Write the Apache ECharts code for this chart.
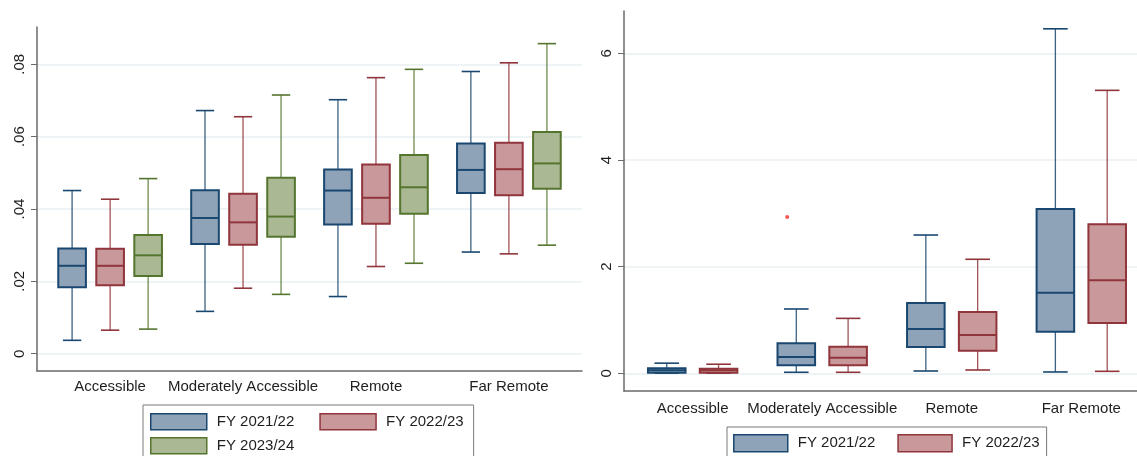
<!DOCTYPE html>
<html>
<head>
<meta charset="utf-8">
<script src="https://cdn.jsdelivr.net/npm/echarts@6/dist/echarts.min.js"></script>
<style>
html,body{margin:0;padding:0;background:#fff;}
#chart{width:1137px;height:456px;}
</style>
</head>
<body>
<div id="chart"></div>
<script>
// ---------------- DATA ----------------
const categories = ['Accessible', 'Moderately Accessible', 'Remote', 'Far Remote'];
const leftSeriesNames = ['FY 2021/22', 'FY 2022/23', 'FY 2023/24'];
const rightSeriesNames = ['FY 2021/22', 'FY 2022/23'];

// each entry: [min, q1, median, q3, max] for each category
const leftFY2122 = [[0.0037, 0.0184, 0.0243, 0.0291, 0.0451], [0.0117, 0.0303, 0.0375, 0.0452, 0.0672], [0.0158, 0.0357, 0.0451, 0.0509, 0.0702], [0.0281, 0.0444, 0.0508, 0.0581, 0.0780]];
const leftFY2223 = [[0.0065, 0.0189, 0.0243, 0.0290, 0.0427], [0.0181, 0.0301, 0.0363, 0.0442, 0.0655], [0.0241, 0.0359, 0.0431, 0.0523, 0.0763], [0.0276, 0.0438, 0.0510, 0.0583, 0.0804]];
const leftFY2324 = [[0.0068, 0.0215, 0.0272, 0.0328, 0.0484], [0.0164, 0.0323, 0.0379, 0.0486, 0.0715], [0.0250, 0.0387, 0.0460, 0.0549, 0.0786], [0.0300, 0.0456, 0.0526, 0.0613, 0.0857]];

const rightFY2122 = [[0.005, 0.011, 0.056, 0.094, 0.19], [0.019, 0.15, 0.306, 0.5625, 1.206], [0.043, 0.493, 0.831, 1.318, 2.593], [0.025, 0.78, 1.511, 3.081, 6.46]];
const rightFY2223 = [[0.003, 0.011, 0.056, 0.086, 0.17], [0.019, 0.15, 0.29, 0.50, 1.03], [0.062, 0.424, 0.718, 1.149, 2.138], [0.037, 0.943, 1.744, 2.794, 5.306]];
// outlier: [category index, value]
const rightOutliers = [[1, 2.93]];

const leftTickValues = [0, 0.02, 0.04, 0.06, 0.08];
const leftTickLabels = ['0', '.02', '.04', '.06', '.08'];
const rightTickValues = [0, 2, 4, 6];
const rightTickLabels = ['0', '2', '4', '6'];

// ---------------- STYLE ----------------
const strokeColors = ['#1a476f', '#90353b', '#55752f'];
const fillColors = ['#8ea3b8', '#c8989b', '#aab994'];
const FONT = '"Liberation Sans", Arial, sans-serif';
const TEXT = '#1e1e1e';
const AXIS = '#6a6a6a';
const GRID = '#e9f1f3';

function rows(arr) { return arr.map((r, i) => [i].concat(r)); }

function makeRender(offset, boxW, capW, idx) {
  return function (params, api) {
    const cat = api.value(0);
    const x = api.coord([cat + offset, 0])[0];
    const yMin = api.coord([cat, api.value(1)])[1];
    const yQ1 = api.coord([cat, api.value(2)])[1];
    const yMed = api.coord([cat, api.value(3)])[1];
    const yQ3 = api.coord([cat, api.value(4)])[1];
    const yMax = api.coord([cat, api.value(5)])[1];
    const bw = api.size([boxW, 0])[0];
    const cw = api.size([capW, 0])[0];
    const sc = strokeColors[idx];
    const wStyle = { stroke: sc, lineWidth: 1.3, opacity: 0.85 };
    return {
      type: 'group',
      children: [
        { type: 'line', shape: { x1: x, y1: yMax, x2: x, y2: yQ3 }, style: wStyle },
        { type: 'line', shape: { x1: x, y1: yQ1, x2: x, y2: yMin }, style: wStyle },
        { type: 'line', shape: { x1: x - cw / 2, y1: yMax, x2: x + cw / 2, y2: yMax }, style: { stroke: sc, lineWidth: 1.6 } },
        { type: 'line', shape: { x1: x - cw / 2, y1: yMin, x2: x + cw / 2, y2: yMin }, style: { stroke: sc, lineWidth: 1.6 } },
        { type: 'rect', shape: { x: x - bw / 2, y: yQ3, width: bw, height: yQ1 - yQ3 }, style: { fill: fillColors[idx], stroke: sc, lineWidth: 2 } },
        { type: 'line', shape: { x1: x - bw / 2, y1: yMed, x2: x + bw / 2, y2: yMed }, style: { stroke: sc, lineWidth: 2 } }
      ]
    };
  };
}

function boxSeries(name, data, idx, offset, boxW, capW, axisIdx) {
  return {
    type: 'custom',
    name: name,
    xAxisIndex: axisIdx,
    yAxisIndex: axisIdx,
    data: rows(data),
    encode: { x: 0, y: [1, 2, 3, 4, 5] },
    renderItem: makeRender(offset, boxW, capW, idx),
    itemStyle: { color: fillColors[idx], borderColor: strokeColors[idx] },
    clip: false,
    silent: true
  };
}

function yAxisCfg(gridIndex, min, max, ticks, labels) {
  return {
    type: 'value', gridIndex: gridIndex, min: min, max: max,
    axisLine: { show: true, onZero: false, lineStyle: { color: AXIS, width: 1.5 } },
    axisTick: { show: true, length: 6, customValues: ticks, lineStyle: { color: AXIS, width: 1 } },
    splitLine: { show: true, lineStyle: { color: GRID, width: 1.5 } },
    axisLabel: {
      customValues: ticks, rotate: 90, margin: 10,
      fontFamily: FONT, fontSize: 15, color: TEXT,
      formatter: function (v) { const i = ticks.findIndex(t => Math.abs(t - v) < 1e-9); return i >= 0 ? labels[i] : ''; }
    }
  };
}

function xAxisCfg(gridIndex, min, max, margin) {
  return {
    type: 'value', gridIndex: gridIndex, min: min, max: max,
    axisLine: { show: true, onZero: false, lineStyle: { color: AXIS, width: 1.5 } },
    axisTick: { show: false },
    splitLine: { show: false },
    axisLabel: {
      customValues: [0, 1, 2, 3], margin: margin,
      fontFamily: FONT, fontSize: 15, color: TEXT,
      formatter: function (v) { return categories[Math.round(v)]; }
    }
  };
}

const legendText = { fontFamily: FONT, fontSize: 15, color: TEXT, padding: [0, 0, 0, 5] };
function legendItem(name, idx) {
  return { name: name, icon: 'rect', itemStyle: { color: fillColors[idx], borderColor: strokeColors[idx], borderWidth: 1.5 } };
}

const option = {
  backgroundColor: '#ffffff',
  animation: false,
  grid: [
    { left: 37, top: 27, width: 545, height: 344, containLabel: false, outerBoundsMode: 'none' },
    { left: 624, top: 11, width: 513, height: 380, containLabel: false, outerBoundsMode: 'none' }
  ],
  xAxis: [
    xAxisCfg(0, -0.55, 3.55, 8),
    xAxisCfg(1, -0.53, 3.43, 10)
  ],
  yAxis: [
    yAxisCfg(0, -0.00478, 0.0903, leftTickValues, leftTickLabels),
    yAxisCfg(1, -0.332, 6.794, rightTickValues, rightTickLabels)
  ],
  legend: [
    {
      left: 143, top: 405, orient: 'horizontal',
      data: [legendItem(leftSeriesNames[0], 0), legendItem(leftSeriesNames[1], 1)],
      itemWidth: 56, itemHeight: 16, itemGap: 25,
      padding: [8, 10, 40, 7], borderColor: '#7a7a7a', borderWidth: 1,
      textStyle: legendText, selectedMode: false
    },
    {
      left: 143, top: 429, orient: 'horizontal',
      data: [legendItem(leftSeriesNames[2], 2)],
      itemWidth: 56, itemHeight: 16,
      padding: [8, 0, 0, 7],
      textStyle: legendText, selectedMode: false
    },
    {
      left: 727, top: 427, orient: 'horizontal',
      data: [legendItem(rightSeriesNames[0], 0), legendItem(rightSeriesNames[1], 1)],
      itemWidth: 54, itemHeight: 17, itemGap: 22,
      padding: [7, 7, 30, 6], borderColor: '#7a7a7a', borderWidth: 1,
      textStyle: legendText, selectedMode: false
    }
  ],
  series: [
    boxSeries(leftSeriesNames[0], leftFY2122, 0, -0.286, 0.208, 0.138, 0),
    boxSeries(leftSeriesNames[1], leftFY2223, 1, 0, 0.208, 0.138, 0),
    boxSeries(leftSeriesNames[2], leftFY2324, 2, 0.286, 0.208, 0.138, 0),
    boxSeries(rightSeriesNames[0], rightFY2122, 0, -0.2, 0.29, 0.19, 1),
    boxSeries(rightSeriesNames[1], rightFY2223, 1, 0.2, 0.29, 0.19, 1),
    {
      type: 'scatter', name: 'outlier', xAxisIndex: 1, yAxisIndex: 1,
      data: rightOutliers, symbol: 'circle', symbolSize: 4, symbolOffset: [-35, 0],
      itemStyle: { color: '#ff2a2a' }, silent: true
    }
  ]
};

const chart = echarts.init(document.getElementById('chart'), null, { renderer: 'canvas' });
chart.setOption(option);
</script>
</body>
</html>
